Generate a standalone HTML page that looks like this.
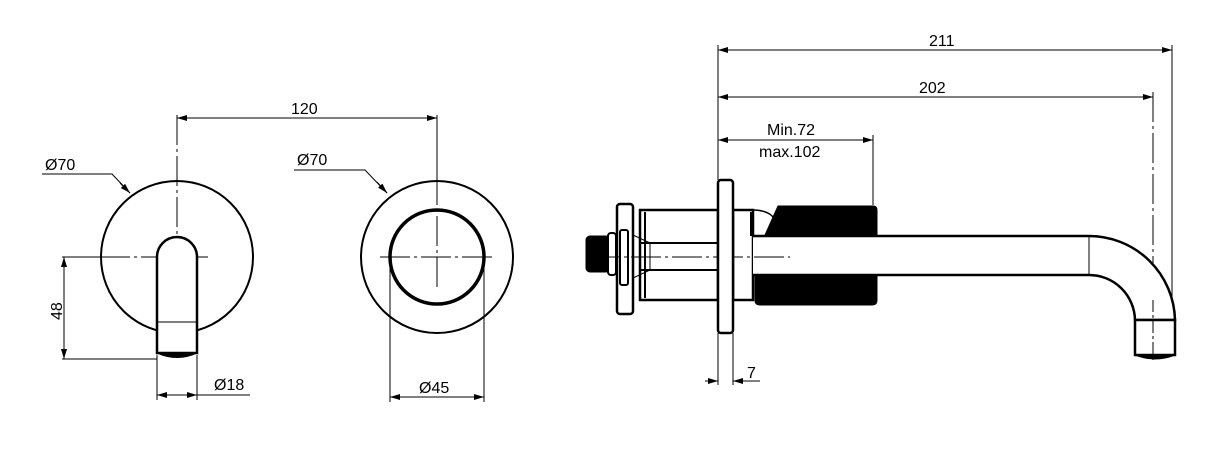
<!DOCTYPE html>
<html><head><style>body{margin:0;background:#fff}svg{display:block}text{font-family:"Liberation Sans",sans-serif;font-size:16px;fill:#000}</style></head>
<body>
<svg width="1226" height="457" viewBox="0 0 1226 457" xmlns="http://www.w3.org/2000/svg">
<defs>
<marker id="a" viewBox="0 0 10 6" refX="10" refY="3" markerWidth="10" markerHeight="6" orient="auto-start-reverse" markerUnits="userSpaceOnUse"><path d="M0,0 L10,3 L0,6 z" fill="#000"/></marker>
</defs>
<g stroke="#000" fill="none" stroke-width="1">
<circle cx="177" cy="257" r="76" stroke-width="2"/>
<line x1="177" y1="115" x2="177" y2="288" stroke-dasharray="30,4,3,4"/>
<line x1="62" y1="257" x2="100" y2="257"/>
<line x1="100" y1="257" x2="208" y2="257" stroke-dasharray="30,4,3,4"/>
<path d="M157,353 L157,257 A20,20 0 0 1 197,257 L197,353 Z" fill="#fff" stroke-width="2.5"/>
<line x1="157" y1="322" x2="197" y2="322"/>
<path d="M157,353 Q177,362 197,353 Z" fill="#000"/>
<line x1="62" y1="359" x2="157" y2="359"/>
<line x1="64" y1="257" x2="64" y2="359" marker-start="url(#a)" marker-end="url(#a)"/>
<line x1="157" y1="355" x2="157" y2="400"/>
<line x1="197" y1="355" x2="197" y2="400"/>
<line x1="157" y1="395" x2="197" y2="395" marker-start="url(#a)" marker-end="url(#a)"/>
<line x1="197" y1="395" x2="250" y2="395"/>
<polyline points="42,174 112,174 130,193" />
<line x1="120" y1="183" x2="130" y2="193" marker-end="url(#a)"/>
<line x1="177" y1="118" x2="437" y2="118" marker-start="url(#a)" marker-end="url(#a)"/>
<line x1="437" y1="115" x2="437" y2="180"/>
<circle cx="437" cy="257" r="76" stroke-width="2"/>
<circle cx="437" cy="257" r="47" stroke-width="3.5"/>
<line x1="437" y1="175" x2="437" y2="290" stroke-dasharray="30,4,3,4"/>
<line x1="380" y1="257" x2="495" y2="257" stroke-dasharray="30,4,3,4"/>
<line x1="390" y1="257" x2="390" y2="402"/>
<line x1="484" y1="257" x2="484" y2="402"/>
<line x1="390" y1="397" x2="484" y2="397" marker-start="url(#a)" marker-end="url(#a)"/>
<polyline points="294,170 365,170 387,193"/>
<line x1="377" y1="182" x2="387" y2="193" marker-end="url(#a)"/>
<line x1="718" y1="45" x2="718" y2="180"/>
<line x1="1172" y1="45" x2="1172" y2="320"/>
<line x1="718" y1="50" x2="1172" y2="50" marker-start="url(#a)" marker-end="url(#a)"/>
<line x1="1153" y1="92" x2="1153" y2="360" stroke-dasharray="30,4,3,4"/>
<line x1="718" y1="97" x2="1153" y2="97" marker-start="url(#a)" marker-end="url(#a)"/>
<line x1="873" y1="135" x2="873" y2="205"/>
<line x1="718" y1="140" x2="873" y2="140" marker-start="url(#a)" marker-end="url(#a)"/>
<line x1="718" y1="333" x2="718" y2="385"/>
<line x1="733" y1="333" x2="733" y2="385"/>
<line x1="705" y1="381" x2="718" y2="381" marker-end="url(#a)"/>
<line x1="746" y1="381" x2="733" y2="381" marker-end="url(#a)"/>
<line x1="733" y1="381" x2="760" y2="381"/>
<rect x="640" y="210" width="78" height="90" stroke-width="2.5" fill="#fff"/>
<line x1="640" y1="243" x2="718" y2="243" stroke-width="2"/>
<line x1="640" y1="270" x2="718" y2="270" stroke-width="2"/>
<line x1="645" y1="212" x2="645" y2="298" stroke-width="2"/>
<path d="M633,235 L650,243 L650,270 L633,278" />
<rect x="617" y="204" width="16" height="110" rx="3" stroke-width="2.5" fill="#fff"/>
<rect x="620" y="230" width="8" height="55" rx="2" stroke-width="2"/>
<rect x="586" y="236" width="24" height="36" rx="4" fill="#000"/>
<rect x="608" y="233" width="8" height="42" rx="3" stroke-width="2" fill="#fff"/>
<rect x="733" y="210" width="20" height="90" stroke-width="2.5" fill="#fff"/>
<path d="M752,210 Q770,210 775,220" stroke-width="1.5"/>
<line x1="751" y1="212" x2="751" y2="236" stroke-width="2"/>
<path d="M778,206 L873,206 Q877,206 877,210 L877,235 L765,235 Z" fill="#000"/>
<path d="M755,275 L877,275 L877,300 Q877,305 872,305 L760,305 Q755,305 755,300 Z" fill="#000"/>
<path d="M753,236 L1089,236 A86,86 0 0 1 1175,320 L1135,320 A46,46 0 0 0 1089,275 L753,275" stroke-width="2.5" fill="#fff"/>
<line x1="1089" y1="236" x2="1089" y2="275"/>
<rect x="1135" y="320" width="40" height="35" stroke-width="2.5" fill="#fff"/>
<path d="M1135,355 Q1155,363 1175,355 Z" fill="#000"/>
<line x1="1153" y1="300" x2="1153" y2="362" stroke-dasharray="12,3,3,3"/>
<line x1="590" y1="257" x2="790" y2="257" stroke-dasharray="30,4,3,4"/>
<rect x="718" y="180" width="15" height="153" rx="3" stroke-width="2.5" fill="#fff"/>
<line x1="718" y1="140" x2="718" y2="180"/>
</g>
<text x="45" y="170">Ø70</text>
<text x="0" y="0" transform="translate(62,320) rotate(-90)">48</text>
<text x="214" y="390">Ø18</text>
<text x="291" y="114">120</text>
<text x="297" y="165">Ø70</text>
<text x="419" y="393">Ø45</text>
<text x="929" y="46">211</text>
<text x="919" y="93">202</text>
<text x="767" y="135">Min.72</text>
<text x="759" y="157">max.102</text>
<text x="747" y="378">7</text>
</svg>
</body></html>
